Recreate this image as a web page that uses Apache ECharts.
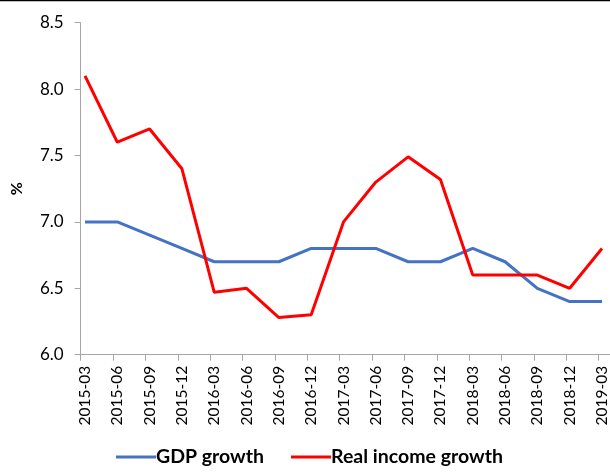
<!DOCTYPE html>
<html><head><meta charset="utf-8">
<script src="https://cdn.jsdelivr.net/npm/echarts@6/dist/echarts.min.js"></script>
<style>html,body{margin:0;padding:0;background:#fff}#c{width:610px;height:473px}</style>
</head><body><div id="c"></div>
<script>
const categories = ['2015-03','2015-06','2015-09','2015-12','2016-03','2016-06','2016-09','2016-12','2017-03','2017-06','2017-09','2017-12','2018-03','2018-06','2018-09','2018-12','2019-03'];
const gdpGrowth = [7.0,7.0,6.9,6.8,6.7,6.7,6.7,6.8,6.8,6.8,6.7,6.7,6.8,6.7,6.5,6.4,6.4];
const realIncomeGrowth = [8.1,7.6,7.7,7.4,6.47,6.5,6.28,6.3,7.0,7.3,7.49,7.32,6.6,6.6,6.6,6.5,6.8];
const yTicks = {min:6.0, max:8.5, interval:0.5};

const FONT = 'Lato, "Open Sans", sans-serif';
const chart = echarts.init(document.getElementById('c'));
chart.setOption({
  animation:false,
  backgroundColor:'#fff',
  graphic:[{type:'line',shape:{x1:0,y1:0.5,x2:610,y2:0.5},style:{stroke:'#000',lineWidth:1.5}}],
  grid:[
    {left:85, right:7, top:22.7, bottom:473-354.7},
    {left:80.7, right:0, top:22.7, bottom:473-354.7}
  ],
  legend:{
    bottom:1, left:111, itemWidth:40, itemHeight:3, itemGap:27,
    icon:'rect',
    textStyle:{fontFamily:FONT, fontWeight:'bold', fontSize:19.5, color:'#000', padding:[0,0,0,-5]},
    data:['GDP growth','Real income growth']
  },
  xAxis:[
    {type:'category', gridIndex:0, data:categories, boundaryGap:false,
     axisLine:{show:false}, axisTick:{show:false},
     axisLabel:{rotate:90, margin:11, fontFamily:FONT, fontSize:15.5, color:'#000', interval:0}},
    {type:'value', gridIndex:1, min:0, max:16.35, interval:1,
     axisLine:{show:true, lineStyle:{color:'#a6a6a6', width:1}},
     axisTick:{show:true, length:6, lineStyle:{color:'#a6a6a6'}},
     axisLabel:{show:false}, splitLine:{show:false}}
  ],
  yAxis:[
    {type:'value', gridIndex:0, min:yTicks.min, max:yTicks.max, interval:yTicks.interval, offset:4.3,
     name:'%', nameLocation:'middle', nameGap:56, nameRotate:90,
     nameTextStyle:{fontFamily:FONT, fontWeight:'bold', fontSize:16, color:'#000'},
     axisLine:{show:true, lineStyle:{color:'#a6a6a6'}},
     axisTick:{show:true, length:6, lineStyle:{color:'#a6a6a6'}},
     axisLabel:{margin:17, fontFamily:FONT, fontSize:17, color:'#000', formatter:v=>v.toFixed(1)},
     splitLine:{show:false}},
    {type:'value', gridIndex:1, min:0, max:1, show:false}
  ],
  series:[
    {name:'GDP growth', type:'line', data:gdpGrowth, xAxisIndex:0, yAxisIndex:0,
     showSymbol:false, symbol:'none', lineStyle:{color:'#4472C4', width:3}, itemStyle:{color:'#4472C4'}},
    {name:'Real income growth', type:'line', data:realIncomeGrowth, xAxisIndex:0, yAxisIndex:0,
     showSymbol:false, symbol:'none', lineStyle:{color:'#FF0000', width:3}, itemStyle:{color:'#FF0000'}}
  ]
});
</script></body></html>
